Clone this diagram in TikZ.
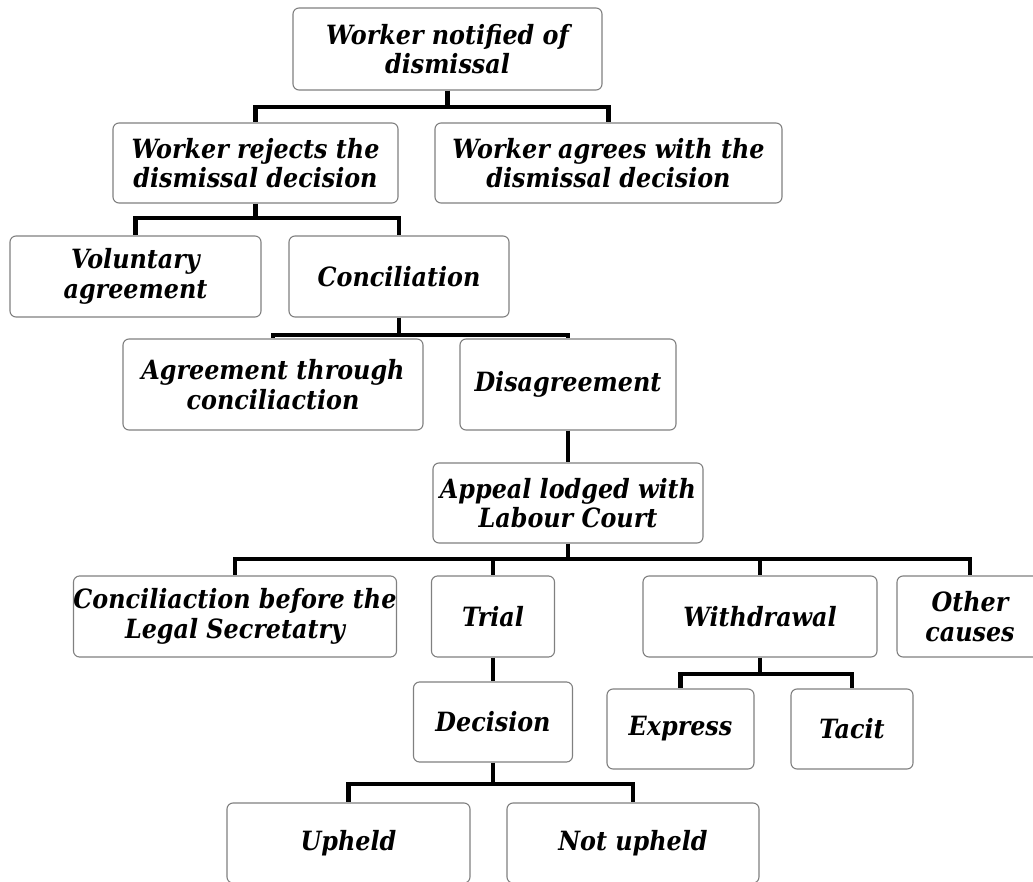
\documentclass[tikz,border=0pt]{standalone}
\usepackage{fontspec}
\setmainfont{DejaVu Serif Condensed}
\usetikzlibrary{positioning}
\definecolor{boxline}{HTML}{808080}
\tikzset{
  box/.style={draw=boxline, line width=1.1pt, rounded corners=6pt, fill=white,
    align=center, inner sep=0pt, text=black,
    font=\fontsize{26.5}{29.5}\selectfont\bfseries\itshape},
  conn/.style={draw=black, line width=4.6pt}
}
\begin{document}
\begin{tikzpicture}[x=1pt,y=-1pt]
\useasboundingbox (0,0) rectangle (1033,882);
% nodes (centre, width, height in pixel units)
\node[box, minimum width=309pt, minimum height=82pt] (b1) at (447.5,49) {Worker notified of\\dismissal};
\node[box, minimum width=285pt, minimum height=80pt] (b2) at (255.5,163) {Worker rejects the\\dismissal decision};
\node[box, minimum width=347pt, minimum height=80pt] (b3) at (608.5,163) {Worker agrees with the\\dismissal decision};
\node[box, minimum width=251pt, minimum height=81pt] (b4) at (135.5,276.5) {Voluntary\\agreement};
\node[box, minimum width=220pt, minimum height=81pt] (b5) at (399,276.5) {Conciliation};
\node[box, minimum width=300pt, minimum height=91pt] (b6) at (273,384.5) {Agreement through\\conciliaction};
\node[box, minimum width=216pt, minimum height=91pt] (b7) at (568,384.5) {Disagreement};
\node[box, minimum width=270pt, minimum height=80pt] (b8) at (568,503) {Appeal lodged with\\Labour Court};
\node[box, minimum width=322pt, minimum height=81pt] (b9) at (235,616.5) {Conciliaction before the\\Legal Secretatry};
\node[box, minimum width=123pt, minimum height=81pt] (b10) at (493,616.5) {Trial};
\node[box, minimum width=234pt, minimum height=81pt] (b11) at (760,616.5) {Withdrawal};
\node[box, minimum width=146pt, minimum height=81pt] (b12) at (970,616.5) {Other\\causes};
\node[box, minimum width=159pt, minimum height=80pt] (b13) at (493,722) {Decision};
\node[box, minimum width=147pt, minimum height=80pt] (b14) at (680.5,729) {Express};
\node[box, minimum width=122pt, minimum height=80pt] (b15) at (852,729) {Tacit};
\node[box, minimum width=243pt, minimum height=80pt] (b16) at (348.5,843) {Upheld};
\node[box, minimum width=252pt, minimum height=80pt] (b17) at (633,843) {Not upheld};
% junctions
\coordinate (j1) at (447.5,107);
\coordinate (j2) at (255.5,218);
\coordinate (j3) at (399,335);
\coordinate (j5) at (568,559);
\coordinate (j7) at (493,784);
\coordinate (j8) at (760,674);
% connectors
\draw[conn] (b1.south) -- (j1) -| (b2.north);
\draw[conn] (j1) -| (b3.north);
\draw[conn] (b2.south) -- (j2) -| (b4.north);
\draw[conn] (j2) -| (b5.north);
\draw[conn] (b5.south) -- (j3) -| (b6.north);
\draw[conn] (j3) -| (b7.north);
\draw[conn] (b7.south) -- (b8.north);
\draw[conn] (b8.south) -- (j5) -| (b9.north);
\draw[conn] (j5) -| (b10.north);
\draw[conn] (j5) -| (b11.north);
\draw[conn] (j5) -| (b12.north);
\draw[conn] (b10.south) -- (b13.north);
\draw[conn] (b13.south) -- (j7) -| (b16.north);
\draw[conn] (j7) -| (b17.north);
\draw[conn] (b11.south) -- (j8) -| (b14.north);
\draw[conn] (j8) -| (b15.north);
\end{tikzpicture}
\end{document}
